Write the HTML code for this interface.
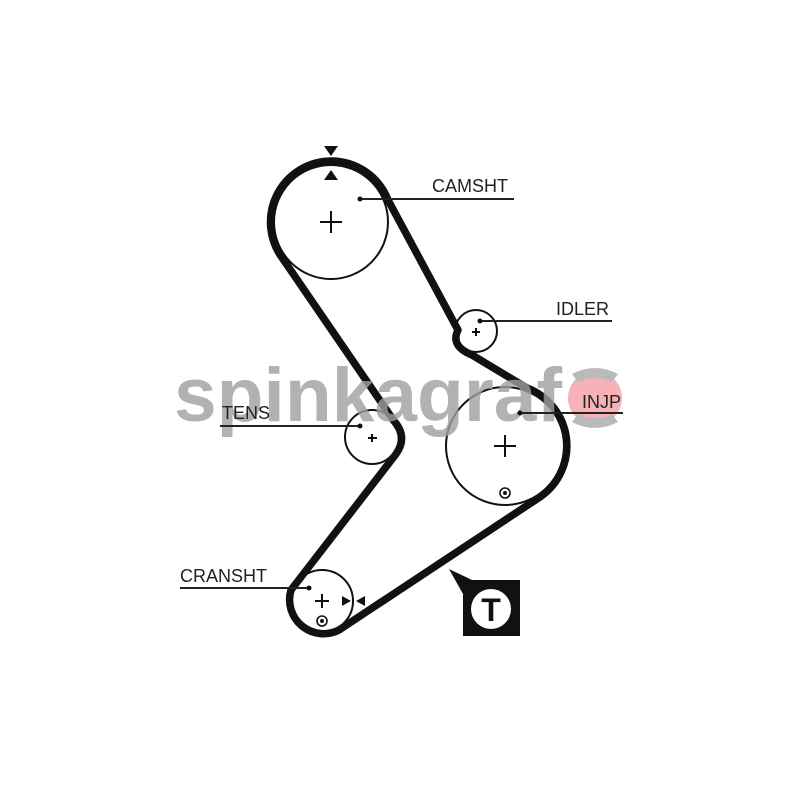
<!DOCTYPE html>
<html><head><meta charset="utf-8"><style>
html,body{margin:0;padding:0;background:#fff;}
svg{display:block;}
text{font-family:"Liberation Sans",sans-serif;}
</style></head><body>
<svg width="800" height="800" viewBox="0 0 800 800" xmlns="http://www.w3.org/2000/svg">
<rect width="800" height="800" fill="#fff"/>
<!-- pulleys -->
<g fill="none" stroke="#111" stroke-width="2">
<circle cx="331" cy="222" r="57"/>
<circle cx="476" cy="331" r="21"/>
<circle cx="505" cy="446" r="59"/>
<circle cx="372" cy="437" r="27"/>
<circle cx="322" cy="601" r="31"/>
</g>
<!-- belt -->
<path d="M331 161 A61 61 0 0 0 283 259 L394 421 Q408 437 396 454 L291 590 A34 34 0 0 0 339 630 L540 497 A62 62 0 0 0 527 388 L472 355 Q450 346 458 330 L388 200 A61 61 0 0 0 331 161 Z" fill="none" stroke="#111" stroke-width="7.5" stroke-linejoin="round"/>
<!-- watermark -->
<g opacity="0.8">
<circle cx="595" cy="398" r="27" fill="#f4a0a4"/>
<path d="M577 378 A27 27 0 0 1 613 378 Q595 370 577 378 Z" fill="#aaa"/>
<path d="M572 374 Q595 362 618 374 L612 382 Q595 374 578 382 Z" fill="#aaa"/>
<path d="M572 422 Q595 434 618 422 L612 414 Q595 422 578 414 Z" fill="#aaa"/>
<text x="174" y="421" font-size="76" font-weight="bold" fill="#a0a0a0" textLength="388" lengthAdjust="spacingAndGlyphs">spinkagraf</text>
</g>
<!-- centers -->
<g stroke="#111" stroke-width="2">
<path d="M320 222 H342 M331 211 V233"/>
<path d="M494 446 H516 M505 435 V457"/>
<path d="M472 332 H480 M476 328 V336"/>
<path d="M368 438 H377 M372 434 V442"/>
<path d="M315 601 H329 M322 594 V608"/>
</g>
<g fill="none" stroke="#111" stroke-width="1.6">
<circle cx="505" cy="493" r="5"/><circle cx="322" cy="621" r="5"/>
</g>
<circle cx="505" cy="493" r="2" fill="#111"/><circle cx="322" cy="621" r="2" fill="#111"/>
<!-- markers -->
<path d="M324 146 H338 L331 156 Z M324 180 H338 L331 170 Z" fill="#111"/>
<path d="M342 596 L342 606 L351 601 Z M365 596 L365 606 L356 601 Z" fill="#111"/>
<!-- leaders -->
<g stroke="#222" stroke-width="2">
<line x1="360" y1="199" x2="514" y2="199"/>
<line x1="480" y1="321" x2="612" y2="321"/>
<line x1="520" y1="413" x2="623" y2="413"/>
<line x1="220" y1="426" x2="360" y2="426"/>
<line x1="180" y1="588" x2="309" y2="588"/>
</g>
<g fill="#111"><circle cx="360" cy="199" r="2.5"/><circle cx="480" cy="321" r="2.5"/><circle cx="520" cy="413" r="2.5"/><circle cx="360" cy="426" r="2.5"/><circle cx="309" cy="588" r="2.5"/></g>
<g font-size="18" fill="#222">
<text x="432" y="192">CAMSHT</text>
<text x="556" y="315">IDLER</text>
<text x="582" y="408">INJP</text>
<text x="222" y="419">TENS</text>
<text x="180" y="582">CRANSHT</text>
</g>
<!-- T box -->
<path d="M449 569 L472 580 L463 594 Z" fill="#111"/>
<rect x="463" y="580" width="57" height="56" fill="#111"/>
<circle cx="491" cy="609" r="20" fill="#fff"/>
<text x="491" y="621" font-size="32" font-weight="bold" text-anchor="middle" fill="#111">T</text>
</svg>
</body></html>
